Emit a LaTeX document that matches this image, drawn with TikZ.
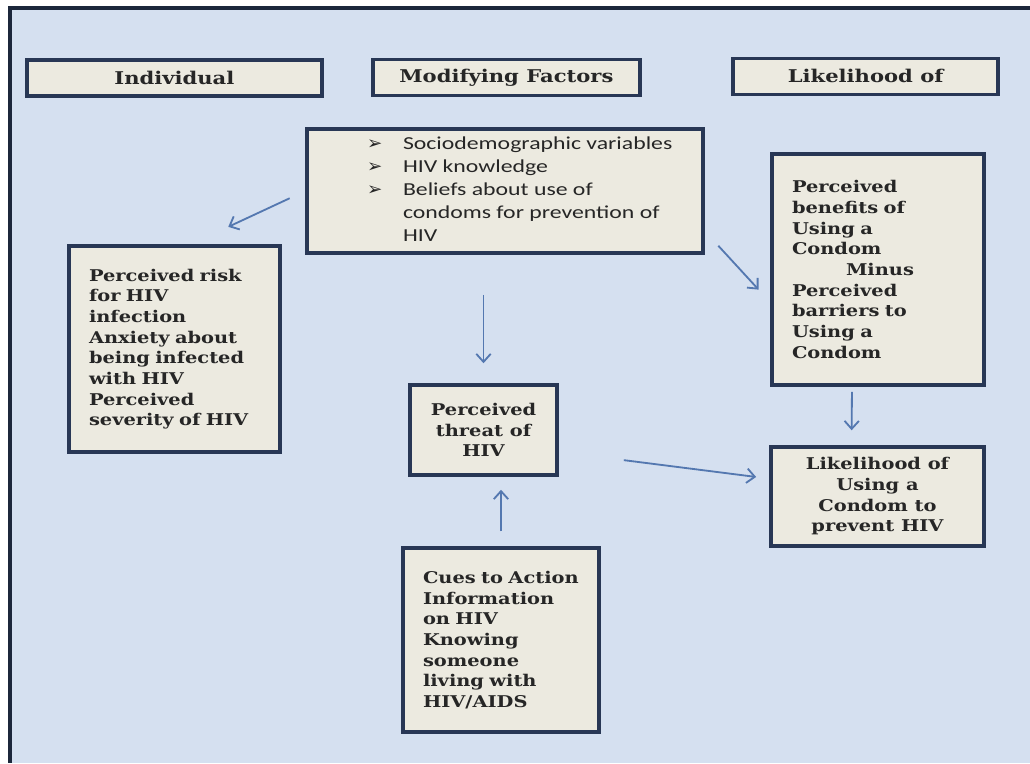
\documentclass[tikz,border=0pt]{standalone}
\usepackage{fontspec}
\setmainfont{DejaVu Serif}[FakeStretch=1.2]
\newfontfamily\listfont{Carlito}[FakeStretch=1.3]
\newfontfamily\dingfont{DejaVu Sans}
\usetikzlibrary{arrows.meta, positioning, calc}
\definecolor{panelblue}{RGB}{213, 224, 240}
\definecolor{boxfill}{RGB}{236, 234, 224}
\definecolor{boxline}{RGB}{40, 55, 85}
\definecolor{arrowblue}{RGB}{84, 120, 176}
\definecolor{inktext}{RGB}{38, 38, 38}

\begin{document}
\begin{tikzpicture}[
  box/.style={draw=boxline, line width=2.5pt, fill=boxfill, text=inktext, inner sep=0pt,
    font=\bfseries\fontsize{11.5}{14.7}\selectfont},
  headbox/.style={box, minimum height=0.9cm, font=\bfseries\fontsize{12.5}{15}\selectfont},
  textbox/.style={box, align=left, inner xsep=0.5cm},
  flow/.style={draw=arrowblue, line width=1.3pt, -{Straight Barb[length=2mm, width=3.6mm]}}
]
  \useasboundingbox (0,0) rectangle (25.75,-19.075);

  % Panel
  \fill[white] (0,0) rectangle (25.75,-19.075);
  \fill[panelblue] (0.25,-0.2) rectangle (25.75,-19.075);
  \draw[boxline!70!black, line width=2.2pt] (25.75,-0.2) -- (0.25,-0.2) -- (0.25,-19.075);

  % Column headings
  \node[headbox, minimum width=7.375cm] (indiv) at (4.36, -1.95) {Individual};
  \node[headbox, minimum width=6.675cm] (modif) at (12.66, -1.94) {Modifying Factors};
  \node[headbox, minimum width=6.625cm] (likhead) at (21.64, -1.91) {Likelihood of};

  % Modifying factors list
  \node[box, minimum width=9.9cm, minimum height=3.1cm, font=\listfont\fontsize{13}{16.3}\selectfont] (mods) at (12.625, -4.775) {%
    \begin{tabular}{@{\hspace{1.5cm}}p{0.9cm}@{}p{7.5cm}@{}}
      {\dingfont\bfseries ➢} & Sociodemographic variables\\
      {\dingfont\bfseries ➢} & HIV knowledge\\
      {\dingfont\bfseries ➢} & Beliefs about use of\\
       & condoms for prevention of\\
       & HIV
    \end{tabular}};

  % Individual perceptions
  \node[textbox, text width=4.275cm, minimum height=5.15cm] (risk) at (4.3625, -8.725) {%
    Perceived risk\\ for HIV\\ infection\\ Anxiety about\\ being infected\\ with HIV\\ Perceived\\ severity of HIV};

  % Benefits minus barriers
  \node[textbox, text width=4.3cm, minimum height=5.775cm] (benefit) at (21.95, -6.7375) {%
    Perceived\\ benefits of\\ Using a\\ Condom\\ \hspace*{1.35cm}Minus\\ Perceived\\ barriers to\\ Using a\\ Condom};

  % Threat
  \node[box, align=center, minimum width=3.675cm, minimum height=2.25cm] (threat) at (12.0875, -10.75) {%
    Perceived\\ threat of\\ HIV};

  % Likelihood of action
  \node[box, align=center, minimum width=5.325cm, minimum height=2.475cm] (likely) at (21.9375, -12.4125) {%
    Likelihood of\\ Using a\\ Condom to\\ prevent HIV};

  % Cues to action
  \node[textbox, text width=3.9cm, minimum height=4.6cm] (cues) at (12.525, -16) {%
    Cues to Action\\ Information\\ on HIV\\ Knowing\\ someone\\ living with\\ HIV/AIDS};

  % Arrows
  \draw[flow, shorten <=0.43cm, shorten >=1.03cm] (mods.west) -- ($(risk.north)+(0.41,0)$);
  \draw[flow, shorten <=1cm, shorten >=0.5cm] (threat.north |- mods.south) -- (threat.north);
  \draw[flow, shorten <=0.5cm, shorten >=0.43cm] ($(mods.east)+(0,-1.0)$) -- ($(benefit.west)+(0,-0.82)$);
  \draw[flow, shorten <=0.125cm, shorten >=0.375cm] ($(benefit.south)+(-0.65,0)$) -- ($(likely.north)+(-0.65,0)$);
  \draw[flow, shorten <=1.64cm, shorten >=0.33cm] ($(threat.east)+(0,-0.547)$) -- ($(likely.west)+(0,0.447)$);
  \draw[flow, shorten <=0.375cm, shorten >=0.325cm] (cues.north) -- (cues.north |- threat.south);
\end{tikzpicture}
\end{document}
